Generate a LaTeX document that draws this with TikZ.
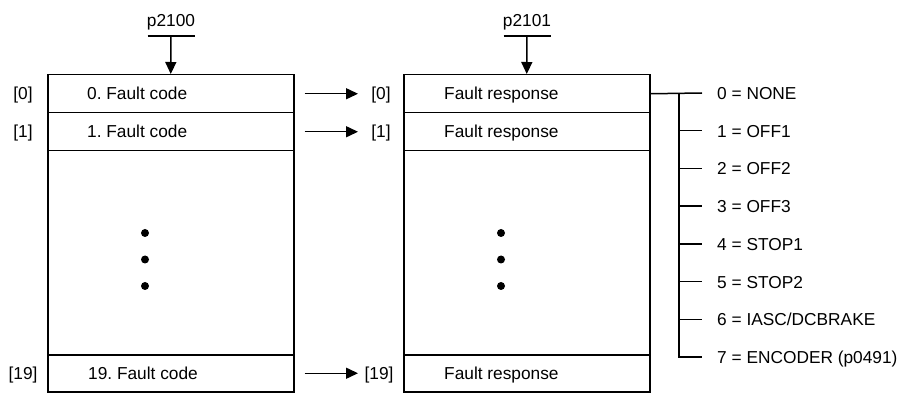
\documentclass[tikz,border=0pt]{standalone}
\usepackage{fontspec}
\setmainfont{Liberation Sans}
\usetikzlibrary{arrows.meta}
\frenchspacing
\begin{document}
\begin{tikzpicture}[x=1pt,y=-1pt,
  lw/.style={line width=1.5pt},
  rowbox/.style={draw,lw,minimum width=246pt,inner sep=0pt,anchor=north west},
  txt/.style={font=\fontsize{17.3}{20}\selectfont,inner sep=0pt},
  ltxt/.style={txt,anchor=base west},
  ctxt/.style={txt,anchor=base},
  arr/.style={lw,-{Triangle[length=12pt,width=11pt]}},
  dotm/.style={circle,fill,inner sep=0pt,minimum size=8pt}]
\useasboundingbox (0,0) rectangle (900,398);
% left box
\node[rowbox,minimum height=38pt] (L0) at (47,74) {};
\node[rowbox,minimum height=38pt] (L1) at (47,112) {};
\node[rowbox,minimum height=204pt] (Lm) at (47,150) {};
\node[rowbox,minimum height=37pt] (L19) at (47,354) {};
% right box
\node[rowbox,minimum height=38pt] (R0) at (403,74) {};
\node[rowbox,minimum height=38pt] (R1) at (403,112) {};
\node[rowbox,minimum height=204pt] (Rm) at (403,150) {};
\node[rowbox,minimum height=37pt] (R19) at (403,354) {};
% texts left
\node[ltxt] (tl0) at (87,99.5) {0. Fault code};
\node[ltxt] (tl1) at (87,137.5) {1. Fault code};
\node[ltxt] (tl19) at (88,379.5) {19. Fault code};
\node[ctxt] (il0) at (23,99.5) {[0]};
\node[ctxt] (il1) at (23,137.5) {[1]};
\node[ctxt] (il19) at (23,379.5) {[19]};
% texts right
\node[ltxt] (tr0) at (444,99.5) {Fault response};
\node[ltxt] (tr1) at (444,137.5) {Fault response};
\node[ltxt] (tr19) at (444,379.5) {Fault response};
\node[ctxt] (ir0) at (381,99.5) {[0]};
\node[ctxt] (ir1) at (381,137.5) {[1]};
\node[ctxt] (ir19) at (379,379.5) {[19]};
% parameter inputs
\node[ctxt] (p1) at (171,26.5) {p2100};
\node[ctxt] (p2) at (527,26.5) {p2101};
\coordinate (b1) at (171,36);
\coordinate (b2) at (527,36);
\draw[lw] ([xshift=-23.5pt]b1) -- ([xshift=23.5pt]b1);
\draw[lw] ([xshift=-23.5pt]b2) -- ([xshift=23.5pt]b2);
\draw[arr] (b1) -- (L0.north);
\draw[arr] (b2) -- (R0.north);
% horizontal arrows
\draw[arr] ([xshift=10pt]L0.east) -- ([xshift=-45pt]R0.west);
\draw[arr] ([xshift=10pt]L1.east) -- ([xshift=-45pt]R1.west);
\draw[arr] ([xshift=10pt]L19.east) -- ([xshift=-45pt]R19.west);
% dots
\foreach \y [count=\i] in {233,259.5,286}{
  \node[dotm] (dl\i) at (145,\y) {};
  \node[dotm] (dr\i) at (501,\y) {};
}
% options
\foreach \t [count=\i from 0] in {0 = NONE,1 = OFF1,2 = OFF2,3 = OFF3,4 = STOP1,5 = STOP2,6 = IASC/DCBRAKE,7 = ENCODER (p0491)}{
  \node[ltxt] (o\i) at (717,99.5+37.71*\i) {\t};
}
\coordinate (vt) at (679,93);
\coordinate (vb) at (679,357);
\draw[lw] (R0.east) -- (702,93);
\draw[lw] (vt) -- (vb) -- (702,357);
\foreach \i in {1,...,6}{
  \draw[lw] (679,93+37.71*\i) -- (702,93+37.71*\i);
}
\end{tikzpicture}
\end{document}
